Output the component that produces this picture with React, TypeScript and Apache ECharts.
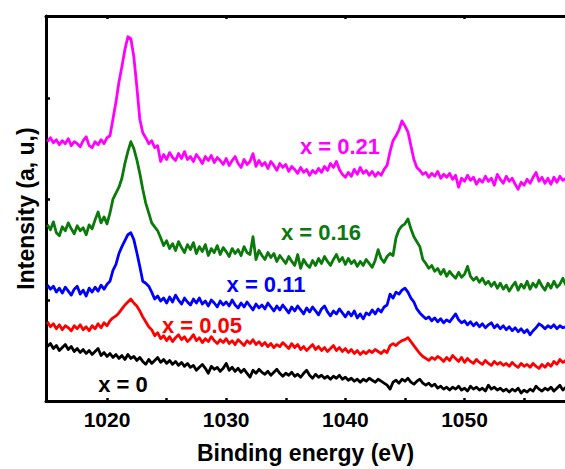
import React, { useEffect, useRef } from "react";
import * as echarts from "echarts";

const energyStart = 1015;
const energyStep = 0.25;

const xTickValues = [1020, 1025, 1030, 1035, 1040, 1045, 1050, 1055];
const xLabelValues = [1020, 1030, 1040, 1050];
const yTickValues = [102, 204, 306];

const seriesNames = ["x = 0", "x = 0.05", "x = 0.11", "x = 0.16", "x = 0.21"];

const pink = [
  262,266,261,264,259,263,260,265,258,262,
  260,257,263,267,258,256,262,259,264,260,
  266,268,285,302,322,338,355,368,366,348,
  318,285,271,266,260,263,256,258,242,249,
  244,251,246,243,250,245,252,244,247,242,
  249,245,240,247,243,248,241,246,243,239,
  245,238,243,247,240,236,244,239,242,250,
  237,243,238,241,235,242,238,233,240,236,
  239,232,237,234,230,236,231,234,228,233,
  230,235,231,237,233,240,236,242,234,229,
  226,231,227,234,229,236,230,233,228,232,
  227,231,228,234,238,252,263,268,274,283,
  278,272,258,244,236,233,229,231,226,230,
  227,232,225,229,226,230,224,228,216,225,
  222,228,223,226,219,224,221,227,222,225,
  218,229,224,220,227,222,225,219,214,221,
  218,224,220,226,231,222,226,220,225,219,
  226,221,227,223,225,
];

const green = [
  178,173,181,170,167,176,172,180,174,169,
  177,172,175,168,178,174,183,191,180,186,
  179,190,204,210,216,225,240,252,262,255,
  244,230,214,200,190,180,176,172,165,157,
  162,154,159,152,161,155,150,158,153,160,
  149,156,151,158,147,154,150,157,148,155,
  151,146,154,149,153,147,156,150,148,166,
  143,152,147,143,150,145,149,141,147,143,
  139,146,141,137,148,134,143,138,135,142,
  137,144,139,146,141,137,143,148,141,145,
  138,144,139,142,136,141,137,143,139,135,
  142,153,144,140,146,149,147,165,173,177,
  179,184,174,166,161,156,143,139,134,137,
  131,134,128,133,126,131,127,124,130,125,
  128,136,126,122,125,120,124,118,121,116,
  120,114,119,113,117,111,116,120,112,118,
  114,121,113,119,115,122,116,112,119,114,
  121,115,118,124,117,
];

const blue = [
  117,113,116,110,114,109,115,111,107,113,
  116,108,112,106,114,110,115,111,117,113,
  118,121,132,138,149,156,162,168,170,163,
  150,136,121,119,116,110,103,106,101,104,
  99,105,100,107,102,98,104,100,97,103,
  99,104,98,101,96,102,99,95,101,97,
  100,96,102,97,94,99,95,100,96,92,
  98,94,97,93,99,95,91,96,92,97,
  93,89,95,91,96,92,88,94,90,95,
  91,87,93,96,90,86,91,88,93,89,
  85,90,86,91,84,88,83,89,87,92,
  88,93,90,95,97,108,104,110,108,112,
  114,110,104,100,93,89,86,83,85,81,
  84,80,83,79,82,80,84,88,82,79,
  81,77,80,76,79,75,78,74,77,79,
  74,77,73,76,72,75,71,74,70,73,
  69,72,67,71,74,78,76,73,76,74,
  77,73,76,74,75,
];

const red = [
  80,75,78,73,77,72,76,74,71,76,
  73,77,72,75,71,76,73,78,74,79,
  76,81,84,86,89,93,97,100,103,99,
  96,91,85,80,75,72,66,69,63,66,
  61,65,60,64,67,62,65,60,63,67,
  61,64,59,63,60,65,61,58,62,59,
  63,58,61,57,62,59,56,61,58,62,
  57,60,56,59,55,58,54,57,55,59,
  56,53,58,54,57,52,55,51,54,57,
  52,55,51,54,50,53,56,51,54,50,
  53,49,52,48,51,47,50,48,51,49,
  52,50,48,51,49,56,58,56,59,61,
  62,64,60,56,52,48,45,43,41,44,
  42,45,43,40,44,41,46,43,40,44,
  39,43,40,38,42,39,37,41,38,36,
  40,37,39,36,38,35,39,36,34,38,
  35,37,34,38,35,33,37,34,38,35,
  40,37,42,39,41,
];

const black = [
  55,58,53,56,51,54,57,52,55,50,
  53,49,52,48,51,47,50,53,46,49,
  45,48,44,47,43,46,42,47,43,45,
  41,44,40,37,42,38,41,44,39,42,
  38,41,37,40,36,39,35,38,34,36,
  31,34,37,33,28,35,32,34,30,33,
  38,31,34,30,33,29,32,28,24,31,
  28,32,29,27,30,26,29,32,28,25,
  28,26,29,25,27,24,28,31,26,23,
  27,24,26,23,25,22,25,23,26,22,
  24,21,23,20,22,19,22,20,23,21,
  19,22,20,18,16,12,19,21,18,22,
  20,23,19,17,20,22,18,16,18,15,
  17,13,15,12,14,11,14,12,15,11,
  13,10,15,12,14,11,13,10,16,12,
  14,11,13,10,12,9,12,10,13,8,
  11,9,12,10,15,12,10,13,11,14,
  10,13,16,11,14,
];

const energies = pink.map((_, i) => energyStart + i * energyStep);

const FONT = '"Liberation Sans", Arial, Helvetica, sans-serif';

export default function App() {
  const ref = useRef<HTMLDivElement>(null);

  useEffect(() => {
    document.body.style.margin = "0";
    if (!ref.current) return;
    const chart = echarts.init(ref.current, undefined, { renderer: "svg" });

    const curves = [
      { name: seriesNames[0], values: black, color: "#000000" },
      { name: seriesNames[1], values: red, color: "#ff0000" },
      { name: seriesNames[2], values: blue, color: "#0000ff" },
      { name: seriesNames[3], values: green, color: "#0a7a0a" },
      { name: seriesNames[4], values: pink, color: "#ff00ff" },
    ];

    const labelPos = [
      { x: 123, y: 384 },
      { x: 202, y: 325 },
      { x: 266, y: 284 },
      { x: 321, y: 232 },
      { x: 340, y: 146 },
    ];

    chart.setOption({
      animation: false,
      backgroundColor: "#ffffff",
      grid: { left: 46, right: 0, top: 16, bottom: 64, containLabel: false },
      xAxis: [
        {
          type: "value",
          position: "bottom",
          min: 1014.88,
          max: 1058.43,
          name: "Binding energy (eV)",
          nameLocation: "middle",
          nameGap: 40,
          nameTextStyle: { fontFamily: FONT, fontWeight: "bold", fontSize: 23, color: "#000" },
          axisLine: { show: true, lineStyle: { color: "#000", width: 3 } },
          axisTick: {
            show: true,
            inside: true,
            length: 3,
            customValues: xTickValues,
            lineStyle: { color: "#000", width: 2.5 },
          },
          axisLabel: {
            show: true,
            customValues: xLabelValues,
            formatter: (v: number) => String(Math.round(v)),
            margin: 8,
            fontFamily: FONT,
            fontWeight: "bold",
            fontSize: 21,
            color: "#000",
          },
          splitLine: { show: false },
        },
        {
          type: "value",
          position: "top",
          min: 1014.88,
          max: 1058.43,
          axisLine: { show: true, lineStyle: { color: "#000", width: 3 } },
          axisTick: {
            show: true,
            inside: true,
            length: 3,
            customValues: xLabelValues,
            lineStyle: { color: "#000", width: 2.5 },
          },
          axisLabel: { show: false },
          splitLine: { show: false },
        },
      ],
      yAxis: {
        type: "value",
        min: 0,
        max: 389,
        name: "Intensity (a, u,)",
        nameLocation: "middle",
        nameGap: 9,
        nameTextStyle: { fontFamily: FONT, fontWeight: "bold", fontSize: 23, color: "#000" },
        axisLine: { show: true, lineStyle: { color: "#000", width: 3 } },
        axisTick: {
          show: true,
          inside: true,
          length: 4,
          customValues: yTickValues,
          lineStyle: { color: "#000", width: 2.5 },
        },
        axisLabel: { show: false },
        splitLine: { show: false },
      },
      series: curves.map((c) => ({
        name: c.name,
        type: "line",
        xAxisIndex: 0,
        yAxisIndex: 0,
        showSymbol: false,
        symbol: "none",
        lineStyle: { color: c.color, width: 2.8, join: "round" },
        data: c.values.map((v, i) => [energies[i], v]),
      })),
      graphic: curves.map((c, i) => ({
        type: "text",
        x: labelPos[i].x,
        y: labelPos[i].y,
        style: {
          text: c.name,
          fill: c.color,
          font: `bold 22px ${FONT}`,
          textAlign: "center",
          textVerticalAlign: "middle",
        },
      })),
    });

    return () => chart.dispose();
  }, []);

  return <div ref={ref} style={{ width: 565, height: 469 }} />;
}
